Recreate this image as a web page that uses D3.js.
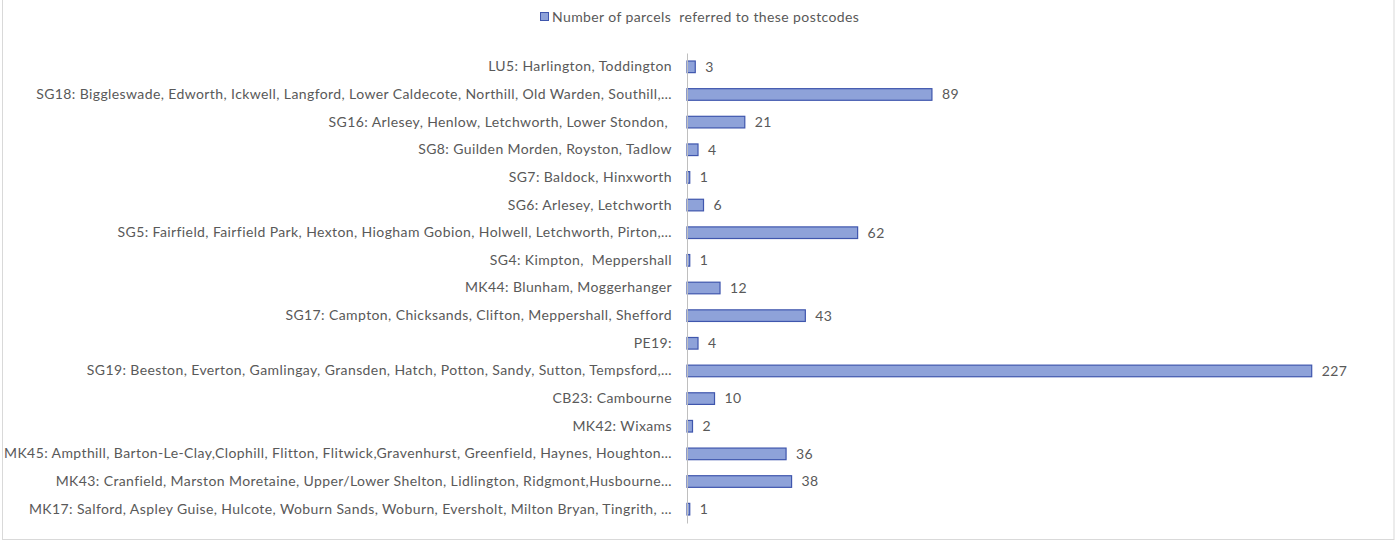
<!DOCTYPE html>
<html>
<head>
<meta charset="utf-8">
<script src="https://cdn.jsdelivr.net/npm/d3@7"></script>
<style>
  html, body { margin: 0; padding: 0; background: #fff; }
  svg { display: block; }
  text { font-family: Lato, "Liberation Sans", sans-serif; white-space: pre; letter-spacing: 0.4px; }
</style>
</head>
<body>
<svg id="chart" width="1397" height="542"></svg>
<script>
const categories = [
  "LU5: Harlington, Toddington",
  "SG18: Biggleswade, Edworth, Ickwell, Langford, Lower Caldecote, Northill, Old Warden, Southill,…",
  "SG16: Arlesey, Henlow, Letchworth, Lower Stondon, ",
  "SG8: Guilden Morden, Royston, Tadlow",
  "SG7: Baldock, Hinxworth",
  "SG6: Arlesey, Letchworth",
  "SG5: Fairfield, Fairfield Park, Hexton, Hiogham Gobion, Holwell, Letchworth, Pirton,…",
  "SG4: Kimpton,  Meppershall",
  "MK44: Blunham, Moggerhanger",
  "SG17: Campton, Chicksands, Clifton, Meppershall, Shefford",
  "PE19:",
  "SG19: Beeston, Everton, Gamlingay, Gransden, Hatch, Potton, Sandy, Sutton, Tempsford,…",
  "CB23: Cambourne",
  "MK42: Wixams",
  "MK45: Ampthill, Barton-Le-Clay,Clophill, Flitton, Flitwick,Gravenhurst, Greenfield, Haynes, Houghton…",
  "MK43: Cranfield, Marston Moretaine, Upper/Lower Shelton, Lidlington, Ridgmont,Husbourne…",
  "MK17: Salford, Aspley Guise, Hulcote, Woburn Sands, Woburn, Eversholt, Milton Bryan, Tingrith, …"
];
const parcels = [3, 89, 21, 4, 1, 6, 62, 1, 12, 43, 4, 227, 10, 2, 36, 38, 1];
const seriesName = "Number of parcels  referred to these postcodes";

const svg = d3.select("#chart");

// chart frame
svg.append("rect")
  .attr("x", 2.5).attr("y", -2).attr("width", 1391.5).attr("height", 541.5)
  .attr("fill", "none").attr("stroke", "#d9d9d9").attr("stroke-width", 1);

const axisX = 687;
const x = d3.scaleLinear().domain([0, 250]).range([axisX, axisX + 688]);
const y = d3.scaleBand().domain(categories).range([53, 523]).paddingInner(0.58).paddingOuter(0.29);

const data = categories.map((c, i) => ({ c, v: parcels[i] }));

// bars
svg.append("g").selectAll("rect").data(data).join("rect")
  .attr("x", x(0))
  .attr("y", d => y(d.c))
  .attr("width", d => x(d.v) - x(0))
  .attr("height", y.bandwidth())
  .attr("fill", "#8ea2d9")
  .attr("stroke", "#3f56ad")
  .attr("stroke-width", 1.2);

// y axis
const yAxis = d3.axisLeft(y).tickSize(0).tickPadding(15);
const gy = svg.append("g").attr("transform", `translate(${axisX},0)`).call(yAxis);
gy.select(".domain").attr("stroke", "#bfbfbf").attr("stroke-width", 1);
gy.selectAll("text").attr("fill", "#595959").attr("font-size", 14)
  .style("font-family", "Lato, 'Liberation Sans', sans-serif");

// value labels
svg.append("g").selectAll("text").data(data).join("text")
  .attr("x", d => x(d.v) + 10)
  .attr("y", d => y(d.c) + y.bandwidth() / 2)
  .attr("dy", "0.35em")
  .attr("fill", "#595959")
  .attr("font-size", 14)
  .text(d => d.v);

// legend
const lg = svg.append("g").attr("transform", "translate(540,12)");
lg.append("rect").attr("x", 0.5).attr("y", 0.5).attr("width", 8).attr("height", 8)
  .attr("fill", "#8ea2d9").attr("stroke", "#3f56ad").attr("stroke-width", 1);
lg.append("text").attr("x", 12).attr("y", 5).attr("dy", "0.35em")
  .attr("fill", "#595959").attr("font-size", 14).text(seriesName);
</script>
</body>
</html>
